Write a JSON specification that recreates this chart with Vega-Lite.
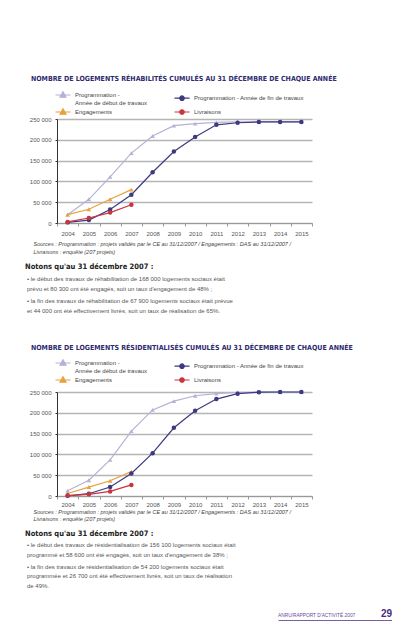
{
  "$schema": "https://vega.github.io/schema/vega-lite/v6.json",
  "background": "white",
  "padding": {"left": 25, "top": 75, "right": 0, "bottom": 0},
  "config": {
    "view": {"stroke": null},
    "font": "Liberation Sans",
    "locale": {"number": {"decimal": ",", "thousands": " ", "grouping": [3], "currency": ["", " €"]}}
  },
  "datasets": {
    "rehab": [
      {"annee": "2004", "serie": "Programmation - Année de début de travaux", "valeur": 20000},
      {"annee": "2005", "serie": "Programmation - Année de début de travaux", "valeur": 57000},
      {"annee": "2006", "serie": "Programmation - Année de début de travaux", "valeur": 111000},
      {"annee": "2007", "serie": "Programmation - Année de début de travaux", "valeur": 168000},
      {"annee": "2008", "serie": "Programmation - Année de début de travaux", "valeur": 209000},
      {"annee": "2009", "serie": "Programmation - Année de début de travaux", "valeur": 234000},
      {"annee": "2010", "serie": "Programmation - Année de début de travaux", "valeur": 239000},
      {"annee": "2011", "serie": "Programmation - Année de début de travaux", "valeur": 242000},
      {"annee": "2012", "serie": "Programmation - Année de début de travaux", "valeur": 243000},
      {"annee": "2013", "serie": "Programmation - Année de début de travaux", "valeur": 243000},
      {"annee": "2014", "serie": "Programmation - Année de début de travaux", "valeur": 243000},
      {"annee": "2015", "serie": "Programmation - Année de début de travaux", "valeur": 243000},
      {"annee": "2004", "serie": "Programmation - Année de fin de travaux", "valeur": 1500},
      {"annee": "2005", "serie": "Programmation - Année de fin de travaux", "valeur": 7000},
      {"annee": "2006", "serie": "Programmation - Année de fin de travaux", "valeur": 32500},
      {"annee": "2007", "serie": "Programmation - Année de fin de travaux", "valeur": 67900},
      {"annee": "2008", "serie": "Programmation - Année de fin de travaux", "valeur": 122000},
      {"annee": "2009", "serie": "Programmation - Année de fin de travaux", "valeur": 172000},
      {"annee": "2010", "serie": "Programmation - Année de fin de travaux", "valeur": 207000},
      {"annee": "2011", "serie": "Programmation - Année de fin de travaux", "valeur": 236000},
      {"annee": "2012", "serie": "Programmation - Année de fin de travaux", "valeur": 241000},
      {"annee": "2013", "serie": "Programmation - Année de fin de travaux", "valeur": 243000},
      {"annee": "2014", "serie": "Programmation - Année de fin de travaux", "valeur": 243000},
      {"annee": "2015", "serie": "Programmation - Année de fin de travaux", "valeur": 243000},
      {"annee": "2004", "serie": "Engagements", "valeur": 20000},
      {"annee": "2005", "serie": "Engagements", "valeur": 33000},
      {"annee": "2006", "serie": "Engagements", "valeur": 57000},
      {"annee": "2007", "serie": "Engagements", "valeur": 80300},
      {"annee": "2004", "serie": "Livraisons", "valeur": 2500},
      {"annee": "2005", "serie": "Livraisons", "valeur": 12000},
      {"annee": "2006", "serie": "Livraisons", "valeur": 25000},
      {"annee": "2007", "serie": "Livraisons", "valeur": 44000}
    ],
    "resid": [
      {"annee": "2004", "serie": "Programmation - Année de début de travaux", "valeur": 12700},
      {"annee": "2005", "serie": "Programmation - Année de début de travaux", "valeur": 38000},
      {"annee": "2006", "serie": "Programmation - Année de début de travaux", "valeur": 86800},
      {"annee": "2007", "serie": "Programmation - Année de début de travaux", "valeur": 156100},
      {"annee": "2008", "serie": "Programmation - Année de début de travaux", "valeur": 207000},
      {"annee": "2009", "serie": "Programmation - Année de début de travaux", "valeur": 228000},
      {"annee": "2010", "serie": "Programmation - Année de début de travaux", "valeur": 241000},
      {"annee": "2011", "serie": "Programmation - Année de début de travaux", "valeur": 246000},
      {"annee": "2012", "serie": "Programmation - Année de début de travaux", "valeur": 249000},
      {"annee": "2013", "serie": "Programmation - Année de début de travaux", "valeur": 250000},
      {"annee": "2014", "serie": "Programmation - Année de début de travaux", "valeur": 250000},
      {"annee": "2015", "serie": "Programmation - Année de début de travaux", "valeur": 250000},
      {"annee": "2004", "serie": "Programmation - Année de fin de travaux", "valeur": 500},
      {"annee": "2005", "serie": "Programmation - Année de fin de travaux", "valeur": 5500},
      {"annee": "2006", "serie": "Programmation - Année de fin de travaux", "valeur": 21500},
      {"annee": "2007", "serie": "Programmation - Année de fin de travaux", "valeur": 54200},
      {"annee": "2008", "serie": "Programmation - Année de fin de travaux", "valeur": 103000},
      {"annee": "2009", "serie": "Programmation - Année de fin de travaux", "valeur": 164000},
      {"annee": "2010", "serie": "Programmation - Année de fin de travaux", "valeur": 205000},
      {"annee": "2011", "serie": "Programmation - Année de fin de travaux", "valeur": 233000},
      {"annee": "2012", "serie": "Programmation - Année de fin de travaux", "valeur": 246000},
      {"annee": "2013", "serie": "Programmation - Année de fin de travaux", "valeur": 249500},
      {"annee": "2014", "serie": "Programmation - Année de fin de travaux", "valeur": 250000},
      {"annee": "2015", "serie": "Programmation - Année de fin de travaux", "valeur": 250000},
      {"annee": "2004", "serie": "Engagements", "valeur": 6000},
      {"annee": "2005", "serie": "Engagements", "valeur": 21500},
      {"annee": "2006", "serie": "Engagements", "valeur": 36600},
      {"annee": "2007", "serie": "Engagements", "valeur": 58600},
      {"annee": "2004", "serie": "Livraisons", "valeur": 1000},
      {"annee": "2005", "serie": "Livraisons", "valeur": 4000},
      {"annee": "2006", "serie": "Livraisons", "valeur": 11000},
      {"annee": "2007", "serie": "Livraisons", "valeur": 26700}
    ],
    "notes1": [
      {"bloc": "notes", "puce": 1, "texte": ["• le début des travaux de réhabilitation de 168 000 logements sociaux était", "   prévu et 80 300 ont été engagés, soit un taux d'engagement de 48% ;"]},
      {"bloc": "notes", "puce": 2, "texte": ["• la fin des travaux de réhabilitation de 67 900 logements sociaux était prévue", "   et 44 000 ont été effectivement livrés, soit un taux de réalisation de 65%."]}
    ],
    "notes2": [
      {"bloc": "notes", "puce": 1, "texte": ["• le début des travaux de résidentialisation de 156 100 logements sociaux était", "   programmé et 58 600 ont été engagés, soit un taux d'engagement de 38% ;"]},
      {"bloc": "notes", "puce": 2, "texte": ["• la fin des travaux de résidentialisation de 54 200 logements sociaux était", "   programmée et 26 700 ont été effectivement livrés, soit un taux de réalisation", "   de 49%."]}
    ],
    "pied": [
      {"position": "début", "ligne": "pied", "texte": "ANRU/RAPPORT D'ACTIVITÉ 2007"},
      {"position": "fin", "ligne": "pied", "texte": "29"}
    ]
  },
  "resolve": {"scale": {"color": "independent"}, "legend": {"color": "independent"}},
  "spacing": 7,
  "vconcat": [
    {
      "width": 255,
      "height": 104,
      "title": {"text": "NOMBRE DE LOGEMENTS RÉHABILITÉS CUMULÉS AU 31 DÉCEMBRE DE CHAQUE ANNÉE", "anchor": "start", "frame": "group", "dx": -26, "font": "Liberation Sans Narrow, DejaVu Sans Condensed, Liberation Sans", "fontSize": 7, "fontWeight": "bold", "color": "#2e2a6e", "offset": 7},
      "data": {"name": "rehab"},
      "encoding": {
        "x": {"field": "annee", "type": "ordinal", "scale": {"type": "band", "paddingInner": 0, "paddingOuter": 0},
          "axis": {"title": ["Sources : Programmation : projets validés par le CE au 31/12/2007 / Engagements : DAS au 31/12/2007 /", "Livraisons : enquête (207 projets)"], "titleAnchor": "start", "titleAlign": "left", "titleX": -24, "titleFontStyle": "italic", "titleFontWeight": "normal", "titleFontSize": 5.5, "titleColor": "#444", "titleLineHeight": 8.5, "titlePadding": 5, "labelAngle": 0, "labelFontSize": 6, "labelColor": "#555", "labelPadding": 4, "tickBand": "extent", "tickSize": 3, "tickColor": "#999", "domainColor": "#999"}},
        "y": {"field": "valeur", "type": "quantitative", "scale": {"domain": [0, 250000], "nice": false},
          "axis": {"title": null, "values": [0, 50000, 100000, 150000, 200000, 250000], "format": ",d", "grid": true, "gridColor": "#b5b5b5", "gridWidth": 1.3, "domainColor": "#333", "tickColor": "#333", "tickSize": 2, "labelFontSize": 6, "labelColor": "#555", "labelPadding": 4}}
      },
      "layer": [
        {"mark": {"type": "line", "strokeWidth": 1.2},
          "encoding": {"color": {"field": "serie", "type": "nominal",
            "scale": {"domain": ["Programmation - Année de début de travaux", "Programmation - Année de fin de travaux", "Engagements", "Livraisons"], "range": ["#b7b1d6", "#3c3a7e", "#e9a23b", "#c9343f"]},
            "legend": {"title": null, "orient": "top", "columns": 2, "direction": "horizontal", "labelFontSize": 6, "labelColor": "#444", "labelLimit": 200, "symbolSize": 100, "symbolStrokeWidth": 1.2, "columnPadding": 24, "rowPadding": -2, "labelOffset": 6, "offset": 2,
              "labelExpr": "datum.label == 'Programmation - Année de début de travaux' ? ['Programmation -', 'Année de début de travaux'] : datum.label",
              "encode": {"symbols": {"update": {
                "shape": {"signal": "(datum.value == 'Engagements' || datum.value == 'Programmation - Année de début de travaux') ? 'M-1.5,0H1.5M0,-0.65L0.6,0.45L-0.6,0.45Z' : 'M-1.5,0H1.5M0.45,0A0.45,0.45,0,1,1,-0.45,0A0.45,0.45,0,1,1,0.45,0Z'"},
                "fill": {"signal": "datum.value == 'Engagements' ? '#e9a23b' : datum.value == 'Livraisons' ? '#c9343f' : datum.value == 'Programmation - Année de fin de travaux' ? '#3c3a7e' : '#b7b1d6'"},
                "stroke": {"signal": "datum.value == 'Engagements' ? '#e9a23b' : datum.value == 'Livraisons' ? '#c9343f' : datum.value == 'Programmation - Année de fin de travaux' ? '#3c3a7e' : '#b7b1d6'"},
                "opacity": {"value": 1}
              }}}}}}},
        {"transform": [{"filter": "datum.serie == 'Programmation - Année de début de travaux' || datum.serie == 'Engagements'"}],
          "mark": {"type": "point", "shape": "triangle-up", "filled": true, "size": 20, "opacity": 1},
          "encoding": {"color": {"field": "serie", "type": "nominal", "scale": {"domain": ["Programmation - Année de début de travaux", "Programmation - Année de fin de travaux", "Engagements", "Livraisons"], "range": ["#b7b1d6", "#3c3a7e", "#e9a23b", "#c9343f"]}, "legend": null}}},
        {"transform": [{"filter": "datum.serie == 'Programmation - Année de fin de travaux' || datum.serie == 'Livraisons'"}],
          "mark": {"type": "point", "shape": "circle", "filled": true, "size": 20, "opacity": 1},
          "encoding": {"color": {"field": "serie", "type": "nominal", "scale": {"domain": ["Programmation - Année de début de travaux", "Programmation - Année de fin de travaux", "Engagements", "Livraisons"], "range": ["#b7b1d6", "#3c3a7e", "#e9a23b", "#c9343f"]}, "legend": null}}}
      ]
    },
    {
      "width": 250,
      "height": 61,
      "title": {"text": "Notons qu'au 31 décembre 2007 :", "anchor": "start", "frame": "group", "dx": -32, "font": "Liberation Sans Narrow, DejaVu Sans Condensed, Liberation Sans", "fontSize": 7.5, "fontWeight": "bold", "color": "#222", "offset": 6},
      "data": {"name": "notes1"},
      "mark": {"type": "text", "align": "left", "baseline": "top", "dx": -30, "fontSize": 6, "lineHeight": 10, "color": "#555"},
      "encoding": {
        "x": {"field": "bloc", "type": "nominal", "axis": null, "scale": {"type": "point", "padding": 0, "align": 0}},
        "y": {"field": "puce", "type": "ordinal", "axis": null, "scale": {"type": "point", "padding": 0.89, "align": 0}},
        "text": {"field": "texte", "type": "nominal"}
      }
    },
    {
      "width": 255,
      "height": 104,
      "title": {"text": "NOMBRE DE LOGEMENTS RÉSIDENTIALISÉS CUMULÉS AU 31 DÉCEMBRE DE CHAQUE ANNÉE", "anchor": "start", "frame": "group", "dx": -26, "font": "Liberation Sans Narrow, DejaVu Sans Condensed, Liberation Sans", "fontSize": 7, "fontWeight": "bold", "color": "#2e2a6e", "offset": 6},
      "data": {"name": "resid"},
      "encoding": {
        "x": {"field": "annee", "type": "ordinal", "scale": {"type": "band", "paddingInner": 0, "paddingOuter": 0},
          "axis": {"title": ["Sources : Programmation : projets validés par le CE au 31/12/2007 / Engagements : DAS au 31/12/2007 /", "Livraisons : enquête (207 projets)"], "titleAnchor": "start", "titleAlign": "left", "titleX": -24, "titleFontStyle": "italic", "titleFontWeight": "normal", "titleFontSize": 5.5, "titleColor": "#444", "titleLineHeight": 7, "titlePadding": 2, "labelAngle": 0, "labelFontSize": 6, "labelColor": "#555", "labelPadding": 2, "tickBand": "extent", "tickSize": 3, "tickColor": "#999", "domainColor": "#999"}},
        "y": {"field": "valeur", "type": "quantitative", "scale": {"domain": [0, 250000], "nice": false},
          "axis": {"title": null, "values": [0, 50000, 100000, 150000, 200000, 250000], "format": ",d", "grid": true, "gridColor": "#b5b5b5", "gridWidth": 1.3, "domainColor": "#333", "tickColor": "#333", "tickSize": 2, "labelFontSize": 6, "labelColor": "#555", "labelPadding": 4}}
      },
      "layer": [
        {"mark": {"type": "line", "strokeWidth": 1.2},
          "encoding": {"color": {"field": "serie", "type": "nominal",
            "scale": {"domain": ["Programmation - Année de début de travaux", "Programmation - Année de fin de travaux", "Engagements", "Livraisons"], "range": ["#b7b1d6", "#3c3a7e", "#e9a23b", "#c9343f"]},
            "legend": {"title": null, "orient": "top", "columns": 2, "direction": "horizontal", "labelFontSize": 6, "labelColor": "#444", "labelLimit": 200, "symbolSize": 100, "symbolStrokeWidth": 1.2, "columnPadding": 24, "rowPadding": -5, "labelOffset": 6, "offset": 4,
              "labelExpr": "datum.label == 'Programmation - Année de début de travaux' ? ['Programmation -', 'Année de début de travaux'] : datum.label",
              "encode": {"symbols": {"update": {
                "shape": {"signal": "(datum.value == 'Engagements' || datum.value == 'Programmation - Année de début de travaux') ? 'M-1.5,0H1.5M0,-0.65L0.6,0.45L-0.6,0.45Z' : 'M-1.5,0H1.5M0.45,0A0.45,0.45,0,1,1,-0.45,0A0.45,0.45,0,1,1,0.45,0Z'"},
                "fill": {"signal": "datum.value == 'Engagements' ? '#e9a23b' : datum.value == 'Livraisons' ? '#c9343f' : datum.value == 'Programmation - Année de fin de travaux' ? '#3c3a7e' : '#b7b1d6'"},
                "stroke": {"signal": "datum.value == 'Engagements' ? '#e9a23b' : datum.value == 'Livraisons' ? '#c9343f' : datum.value == 'Programmation - Année de fin de travaux' ? '#3c3a7e' : '#b7b1d6'"},
                "opacity": {"value": 1}
              }}}}}}},
        {"transform": [{"filter": "datum.serie == 'Programmation - Année de début de travaux' || datum.serie == 'Engagements'"}],
          "mark": {"type": "point", "shape": "triangle-up", "filled": true, "size": 20, "opacity": 1},
          "encoding": {"color": {"field": "serie", "type": "nominal", "scale": {"domain": ["Programmation - Année de début de travaux", "Programmation - Année de fin de travaux", "Engagements", "Livraisons"], "range": ["#b7b1d6", "#3c3a7e", "#e9a23b", "#c9343f"]}, "legend": null}}},
        {"transform": [{"filter": "datum.serie == 'Programmation - Année de fin de travaux' || datum.serie == 'Livraisons'"}],
          "mark": {"type": "point", "shape": "circle", "filled": true, "size": 20, "opacity": 1},
          "encoding": {"color": {"field": "serie", "type": "nominal", "scale": {"domain": ["Programmation - Année de début de travaux", "Programmation - Année de fin de travaux", "Engagements", "Livraisons"], "range": ["#b7b1d6", "#3c3a7e", "#e9a23b", "#c9343f"]}, "legend": null}}}
      ]
    },
    {
      "bounds": "flush",
      "spacing": 5,
      "hconcat": [
        {
          "width": 216,
          "height": 40,
          "title": {"text": "Notons qu'au 31 décembre 2007 :", "anchor": "start", "frame": "group", "dx": -32, "font": "Liberation Sans Narrow, DejaVu Sans Condensed, Liberation Sans", "fontSize": 7.5, "fontWeight": "bold", "color": "#222", "offset": 5},
          "data": {"name": "notes2"},
          "mark": {"type": "text", "align": "left", "baseline": "top", "dx": -30, "fontSize": 6, "lineHeight": 9.5, "color": "#555"},
          "encoding": {
            "x": {"field": "bloc", "type": "nominal", "axis": null, "scale": {"type": "point", "padding": 0, "align": 0}},
            "y": {"field": "puce", "type": "ordinal", "axis": null, "scale": {"type": "point", "padding": 0.41, "align": 0}},
            "text": {"field": "texte", "type": "nominal"}
          }
        },
        {
          "width": 114,
          "height": 79,
          "data": {"name": "pied"},
          "encoding": {
            "x": {"field": "position", "type": "nominal", "scale": {"type": "point", "padding": 0, "domain": ["début", "fin"]}, "axis": {"orient": "bottom", "labels": false, "ticks": false, "title": null, "domainColor": "#4a2a80", "domainWidth": 2.5}},
            "y": {"field": "ligne", "type": "nominal", "scale": {"type": "point", "padding": 0, "align": 1}, "axis": null}
          },
          "layer": [
            {"transform": [{"filter": "datum.position == 'début'"}], "mark": {"type": "text", "align": "left", "baseline": "bottom", "dy": -3, "fontSize": 4.8, "color": "#6a4a9a"}, "encoding": {"text": {"field": "texte", "type": "nominal"}}},
            {"transform": [{"filter": "datum.position == 'fin'"}], "mark": {"type": "text", "align": "right", "baseline": "bottom", "dy": -2, "fontSize": 10, "fontWeight": "bold", "color": "#4a2a80"}, "encoding": {"text": {"field": "texte", "type": "nominal"}}}
          ]
        }
      ]
    }
  ]
}
